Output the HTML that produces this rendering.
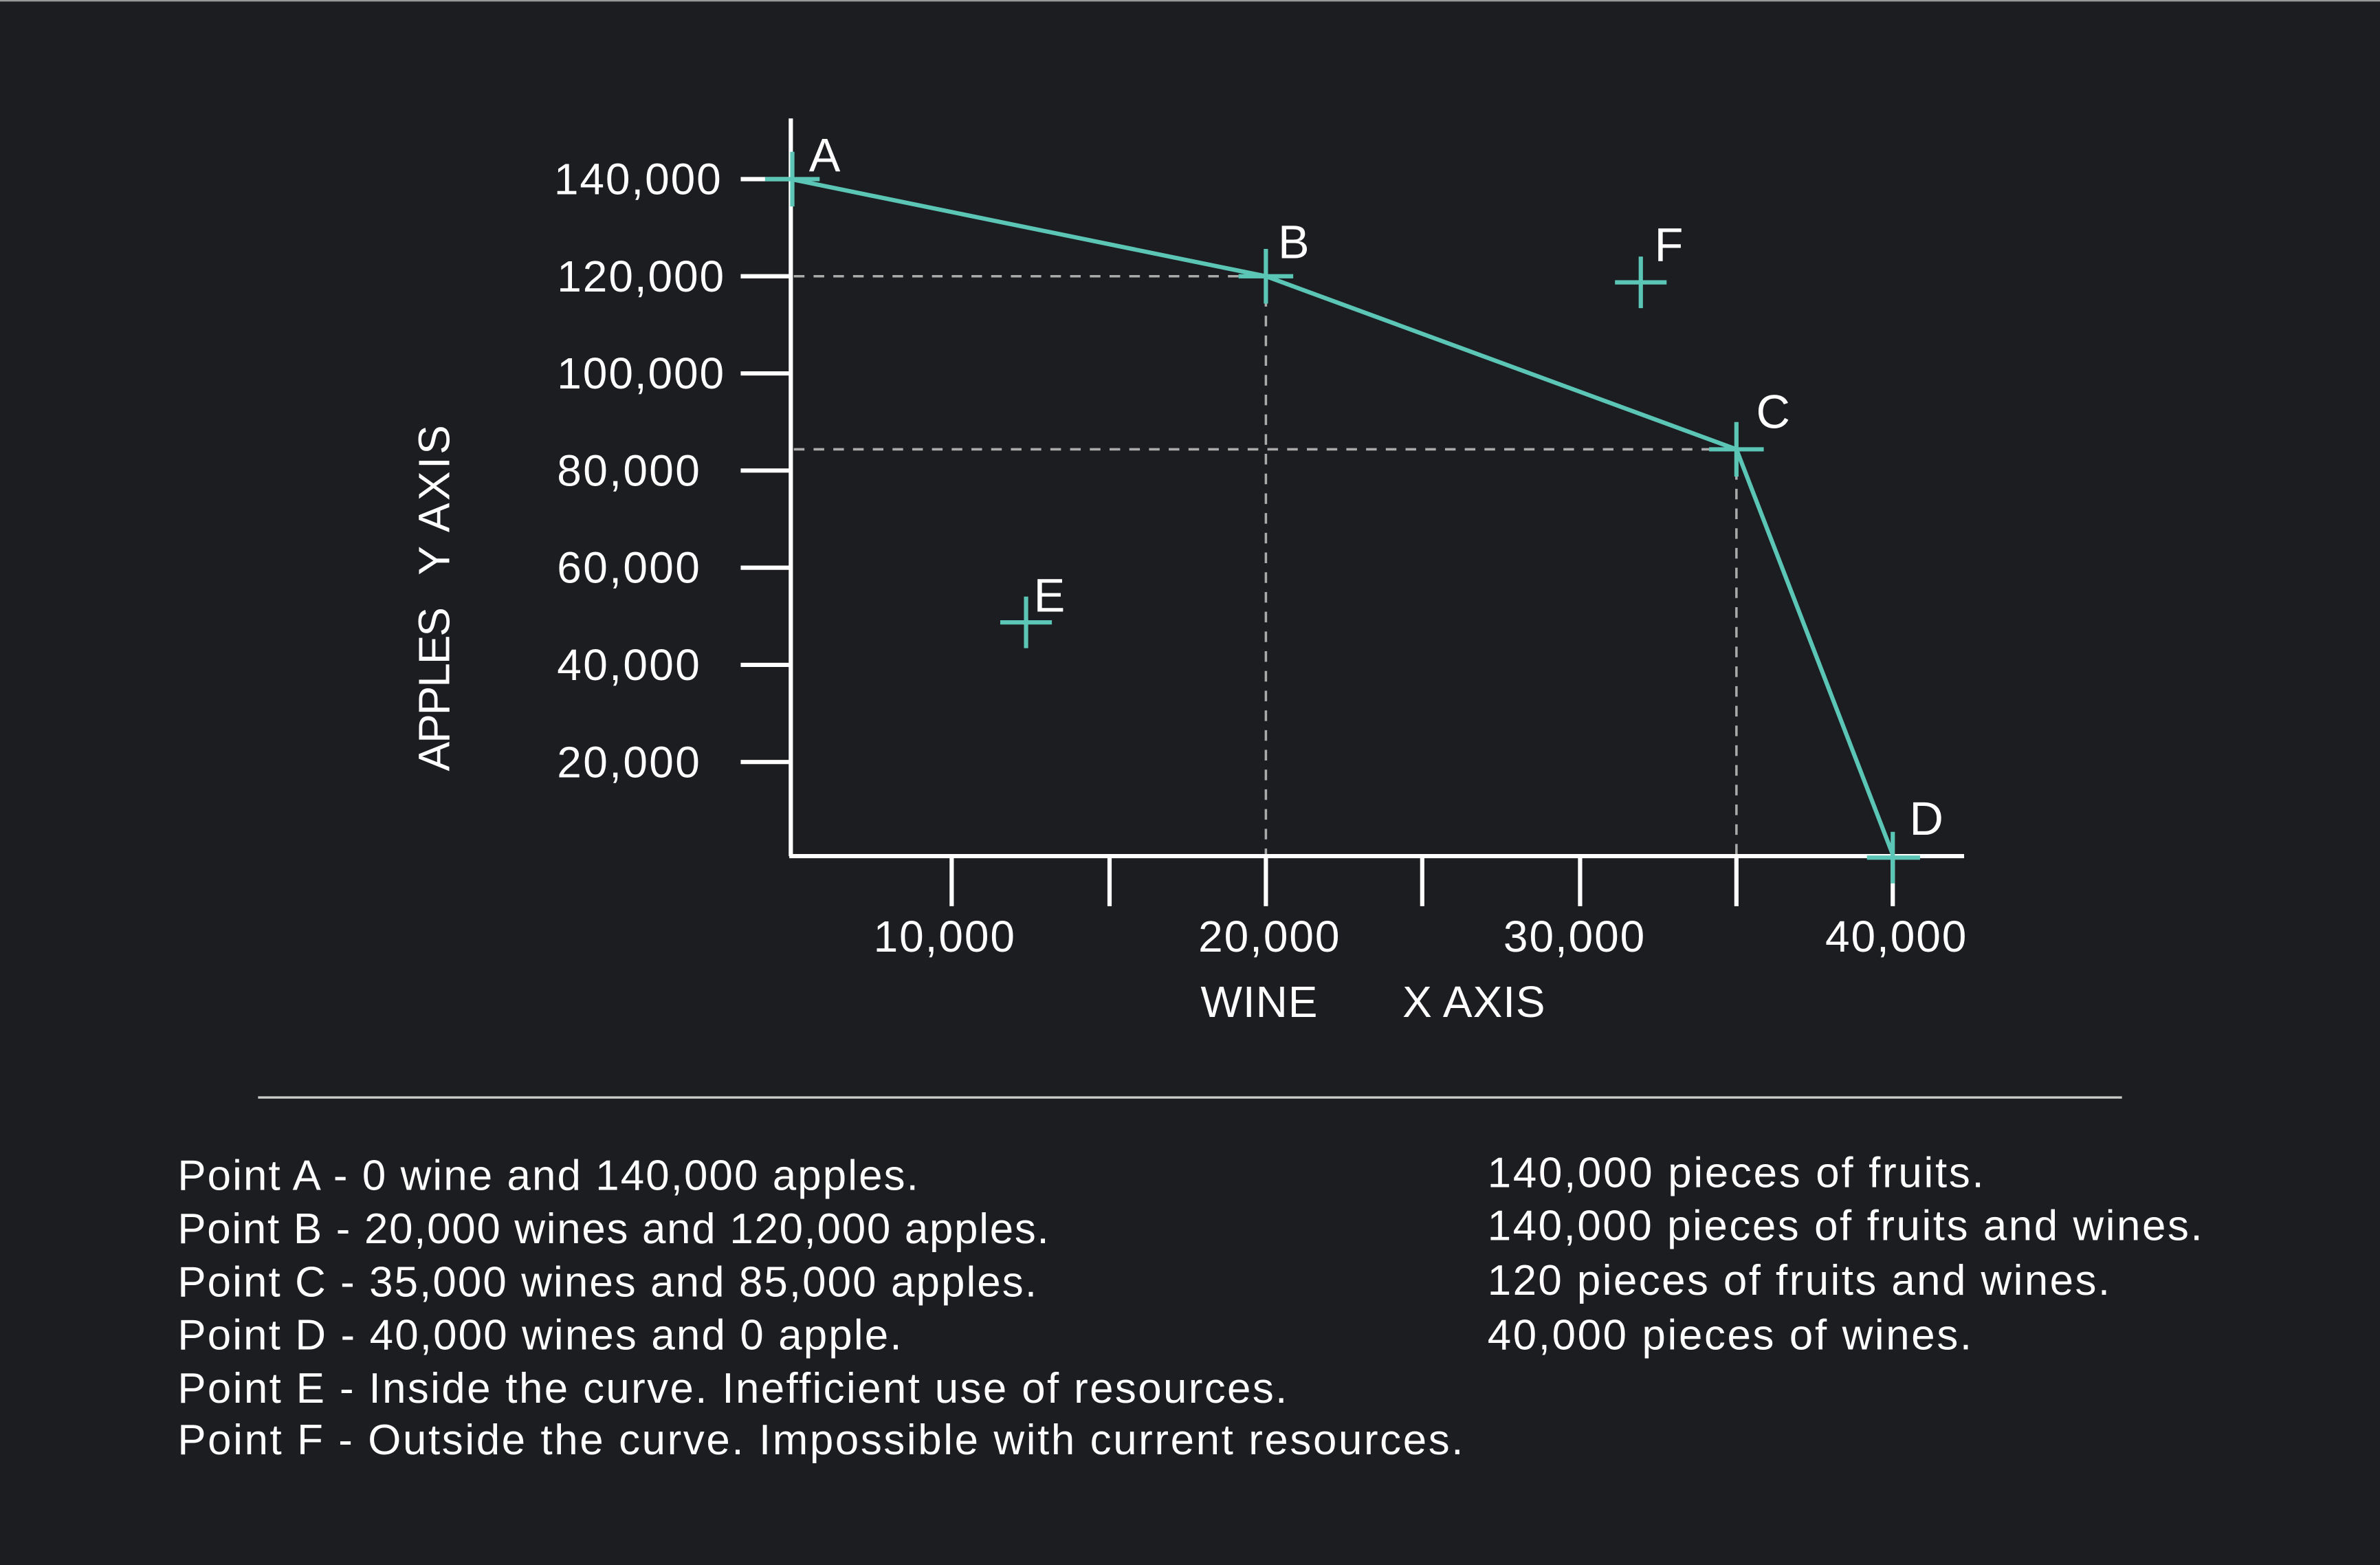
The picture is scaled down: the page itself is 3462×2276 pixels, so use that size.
<!DOCTYPE html>
<html><head><meta charset="utf-8"><style>
html,body{margin:0;padding:0;background:#1c1d21;}
svg{display:block;}
text{font-family:"Liberation Sans",sans-serif;fill:#fff;}
</style></head><body>
<svg width="3462" height="2276" viewBox="0 0 1568 1031" preserveAspectRatio="none" xmlns="http://www.w3.org/2000/svg">
<rect x="0" y="0" width="1568" height="1031" fill="#1c1d21"/>
<line x1="0" y1="0.5" x2="1568" y2="0.5" stroke="#999" stroke-width="1"/>
<g stroke="#aaa" stroke-width="1.6" stroke-dasharray="7,6" fill="none">
<line x1="523" y1="182" x2="834" y2="182"/>
<line x1="523" y1="296" x2="1144" y2="296"/>
<line x1="834" y1="182" x2="834" y2="563"/>
<line x1="1144" y1="296" x2="1144" y2="563"/>
</g>
<g stroke="#fff" stroke-width="2.8" fill="none">
<line x1="521" y1="78" x2="521" y2="564"/>
<line x1="520" y1="564" x2="1294" y2="564"/>
<line x1="488" y1="118" x2="521" y2="118"/>
<line x1="488" y1="182" x2="521" y2="182"/>
<line x1="488" y1="246" x2="521" y2="246"/>
<line x1="488" y1="310" x2="521" y2="310"/>
<line x1="488" y1="374" x2="521" y2="374"/>
<line x1="488" y1="438" x2="521" y2="438"/>
<line x1="488" y1="502" x2="521" y2="502"/>
<line x1="627" y1="565" x2="627" y2="597"/>
<line x1="731" y1="565" x2="731" y2="597"/>
<line x1="834" y1="565" x2="834" y2="597"/>
<line x1="937" y1="565" x2="937" y2="597"/>
<line x1="1041" y1="565" x2="1041" y2="597"/>
<line x1="1144" y1="565" x2="1144" y2="597"/>
<line x1="1247" y1="565" x2="1247" y2="597"/>
</g>
<polyline points="521,118 834,182 1144,296 1247,563" fill="none" stroke="#5cc6b6" stroke-width="2.8"/>
<g stroke="#5cc6b6" stroke-width="2.8">
<line x1="504" y1="118" x2="540" y2="118"/><line x1="522" y1="100" x2="522" y2="136"/>
<line x1="816" y1="182" x2="852" y2="182"/><line x1="834" y1="164" x2="834" y2="200"/>
<line x1="1126" y1="296" x2="1162" y2="296"/><line x1="1144" y1="278" x2="1144" y2="314"/>
<line x1="1230" y1="565" x2="1265" y2="565"/><line x1="1247" y1="548" x2="1247" y2="582"/>
<line x1="659" y1="410" x2="693" y2="410"/><line x1="676" y1="393" x2="676" y2="427"/>
<line x1="1064" y1="186" x2="1098" y2="186"/><line x1="1081" y1="169" x2="1081" y2="203"/>
</g>
<g font-size="31">
<text x="533" y="113">A</text>
<text x="842" y="170">B</text>
<text x="1157" y="282">C</text>
<text x="1258" y="550">D</text>
<text x="681" y="403">E</text>
<text x="1090" y="172">F</text>
</g>
<g font-size="29" text-anchor="end">
<text x="475" y="128" textLength="110">140,000</text>
<text x="477" y="192" textLength="110">120,000</text>
<text x="477" y="256" textLength="110">100,000</text>
<text x="461" y="320" textLength="94">80,000</text>
<text x="461" y="384" textLength="94">60,000</text>
<text x="461" y="448" textLength="94">40,000</text>
<text x="461" y="512" textLength="94">20,000</text>
</g>
<g font-size="29" text-anchor="middle">
<text x="622" y="627" textLength="93">10,000</text>
<text x="836" y="627" textLength="93">20,000</text>
<text x="1037" y="627" textLength="93">30,000</text>
<text x="1249" y="627" textLength="93">40,000</text>
</g>
<text x="791" y="670" font-size="29" textLength="77">WINE</text>
<text x="924" y="670" font-size="29" textLength="94">X AXIS</text>
<text transform="translate(296,508) rotate(-90)" font-size="29" textLength="108">APPLES</text>
<text transform="translate(296,379) rotate(-90)" font-size="29" textLength="99">Y AXIS</text>
<line x1="170" y1="723" x2="1398" y2="723" stroke="#ccc" stroke-width="1.5"/>
<g font-size="28">
<text x="117" y="784" textLength="488">Point A - 0 wine and 140,000 apples.</text>
<text x="117" y="819" textLength="574">Point B - 20,000 wines and 120,000 apples.</text>
<text x="117" y="854" textLength="566">Point C - 35,000 wines and 85,000 apples.</text>
<text x="117" y="889" textLength="477">Point D - 40,000 wines and 0 apple.</text>
<text x="117" y="924" textLength="731">Point E - Inside the curve. Inefficient use of resources.</text>
<text x="117" y="958" textLength="847">Point F - Outside the curve. Impossible with current resources.</text>
<text x="980" y="782" textLength="327">140,000 pieces of fruits.</text>
<text x="980" y="817" textLength="471">140,000 pieces of fruits and wines.</text>
<text x="980" y="853" textLength="410">120 pieces of fruits and wines.</text>
<text x="980" y="889" textLength="319">40,000 pieces of wines.</text>
</g>
</svg>
</body></html>
